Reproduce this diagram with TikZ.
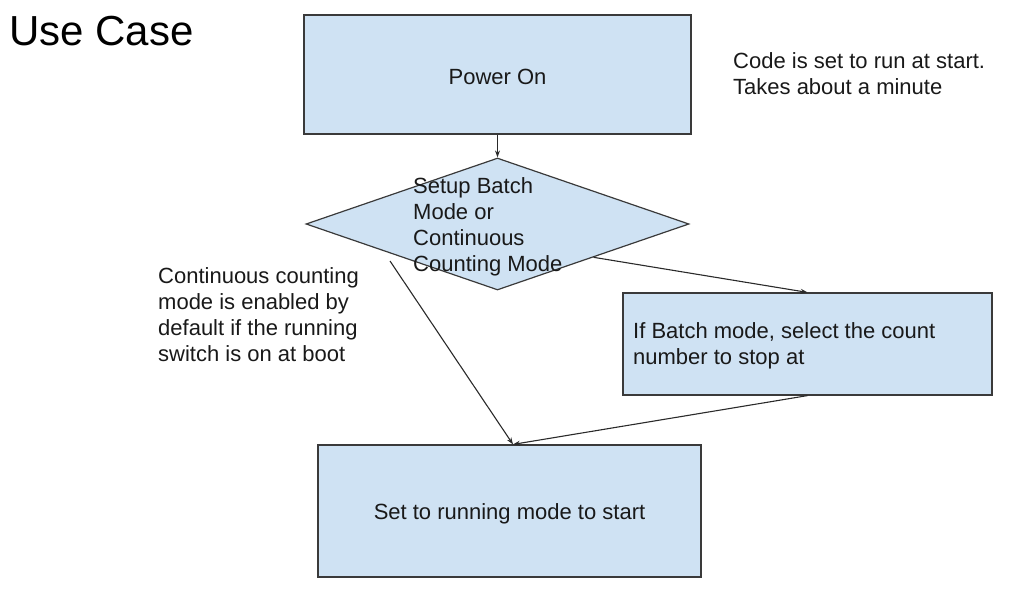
\documentclass[tikz,border=0pt]{standalone}
\usepackage{fontspec}
\setmainfont{Liberation Sans}
\usetikzlibrary{shapes.geometric,arrows.meta,calc}
\definecolor{boxfill}{HTML}{CFE2F3}
\definecolor{boxline}{HTML}{3A3A3A}
\definecolor{conn}{HTML}{2A2A2A}
\begin{document}
\begin{tikzpicture}[x=1pt,y=-1pt,
  flowbox/.style={draw=boxline,fill=boxfill,line width=1.2pt,inner sep=0pt},
  lbl/.style={inner sep=0pt,font=\fontsize{22}{26}\selectfont,align=left,text=black!90},
  conn/.style={draw=conn,line width=1.1pt,-{Stealth[length=7pt,width=5pt]}}]
\useasboundingbox (0,0) rectangle (1033,603);
\node[inner sep=0pt,anchor=base west,font=\fontsize{42}{50}\selectfont] (title) at (9,45) {Use Case};
\node[flowbox,minimum width=387pt,minimum height=119pt] (power) at (497.5,74.5) {};
\node[lbl,align=center] (powert) at (497.5,77) {Power On};
\node[lbl,anchor=north west] (note) at (733,52) {Code is set to run at start.\\Takes about a minute};
\node[flowbox,shape=diamond,minimum width=383pt,minimum height=132pt] (dia) at (497.5,224) {};
\node[lbl,anchor=north west] (diat) at (413,177) {Setup Batch\\Mode or\\Continuous\\Counting Mode};
\node[lbl,anchor=north west] (cont) at (158,267) {Continuous counting\\mode is enabled by\\default if the running\\switch is on at boot};
\node[flowbox,minimum width=369pt,minimum height=102pt] (batch) at (807.5,344) {};
\node[lbl,anchor=north west] (batcht) at (633,322) {If Batch mode, select the count\\number to stop at};
\node[flowbox,minimum width=383pt,minimum height=132pt] (run) at (509.5,511) {};
\node[lbl,align=center] (runt) at (509.5,513.5) {Set to running mode to start};
\coordinate (dsw) at (390,261);
\coordinate (runin) at ($(run.north)+(3.5,0)$);
\draw[conn] (power.south) -- (dia.north);
\draw[conn] (dia.south east) -- (batch.north);
\draw[conn] (dsw) -- (runin);
\draw[conn] (batch.south) -- (runin);
\end{tikzpicture}
\end{document}
